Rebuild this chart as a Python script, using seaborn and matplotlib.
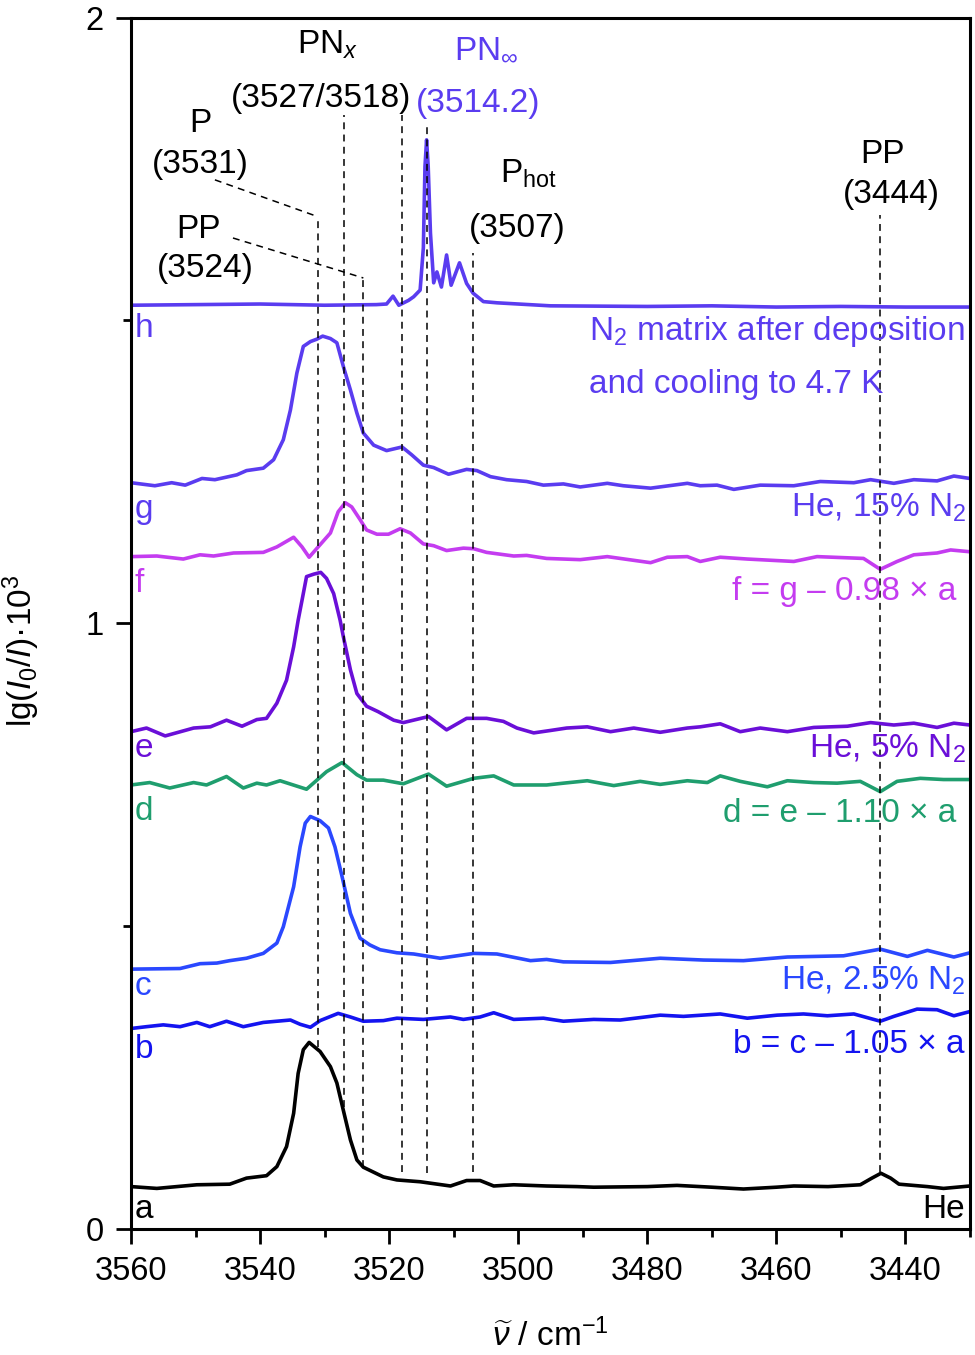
import numpy as np
import pandas as pd
import matplotlib
matplotlib.use("Agg")
import matplotlib.pyplot as plt
import seaborn as sns

# ---------------- data ----------------
a_x = [3560, 3556, 3549.8, 3544.7, 3542.1, 3539, 3537.4, 3535.9, 3534.8, 3534.1, 3533.3, 3532.4,
       3530.7, 3529.1, 3528.1, 3527.1, 3526, 3525, 3524, 3520.9, 3518.8, 3515.2, 3510.5, 3508,
       3505.9, 3503.8, 3500.7, 3495.6, 3490.9, 3488.3, 3480, 3475.4, 3470, 3465.1, 3460, 3457.3,
       3452, 3447, 3445.2, 3443.8, 3442.3, 3441, 3436.6, 3434.1, 3430]
a_y = [0.070, 0.067, 0.073, 0.074, 0.084, 0.088, 0.103, 0.136, 0.191, 0.257, 0.296, 0.308,
       0.293, 0.268, 0.241, 0.196, 0.147, 0.114, 0.102, 0.086, 0.081, 0.078, 0.071, 0.080,
       0.080, 0.071, 0.073, 0.071, 0.070, 0.069, 0.070, 0.072, 0.069, 0.066, 0.069, 0.071,
       0.070, 0.073, 0.084, 0.092, 0.084, 0.074, 0.070, 0.067, 0.071]

b_x = [3560, 3557.6, 3555, 3552.4, 3549.8, 3547.8, 3545.2, 3542.6, 3539.5, 3535.3, 3533.8, 3532.2,
       3530.7, 3527.9, 3526, 3524, 3520.9, 3518.8, 3514.7, 3510.5, 3508.5, 3505.9, 3503.8, 3500.7,
       3496.1, 3493, 3488.3, 3484.2, 3478, 3474.4, 3468.7, 3464.5, 3459.9, 3455.8, 3452.1, 3448,
       3443.9, 3441.8, 3438.2, 3435.1, 3432.5, 3430]
b_y = [0.331, 0.334, 0.337, 0.334, 0.341, 0.334, 0.343, 0.334, 0.341, 0.345, 0.338, 0.333,
       0.344, 0.356, 0.350, 0.343, 0.344, 0.348, 0.346, 0.350, 0.346, 0.350, 0.357, 0.346,
       0.348, 0.343, 0.346, 0.345, 0.353, 0.351, 0.355, 0.348, 0.353, 0.355, 0.352, 0.355,
       0.343, 0.351, 0.363, 0.362, 0.352, 0.359]

c_x = [3560, 3552.4, 3549.3, 3546.7, 3544.7, 3542.1, 3539.5, 3537.4, 3536.4, 3534.8, 3533.8, 3533,
       3532.2, 3530.7, 3529.4, 3528.4, 3527.3, 3526, 3524.5, 3523, 3521.4, 3518.8, 3516.2, 3512.1,
       3506.9, 3503.3, 3498.1, 3495.6, 3493, 3485.7, 3478, 3471.3, 3465.1, 3458.3, 3449.6, 3443.9,
       3439.7, 3436.6, 3432.5, 3430]
c_y = [0.429, 0.430, 0.438, 0.439, 0.443, 0.447, 0.455, 0.472, 0.499, 0.565, 0.631, 0.670,
       0.681, 0.674, 0.662, 0.631, 0.582, 0.521, 0.480, 0.469, 0.461, 0.456, 0.454, 0.447,
       0.455, 0.454, 0.443, 0.445, 0.441, 0.440, 0.447, 0.444, 0.443, 0.449, 0.451, 0.462,
       0.450, 0.460, 0.449, 0.456]

d_x = [3560, 3557.1, 3554, 3550.3, 3548.3, 3545.2, 3542.6, 3540.5, 3539, 3536.9, 3532.8, 3531.2,
       3529.7, 3527.3, 3525, 3523.5, 3520.9, 3517.8, 3513.9, 3511.1, 3506.9, 3503.8, 3500.7, 3495.6,
       3493, 3489.3, 3485.2, 3481.1, 3478, 3473.8, 3470.7, 3468.7, 3465.6, 3461.4, 3458.3, 3454.2,
       3450.6, 3447, 3443.9, 3441.3, 3437.7, 3434.1, 3430]
d_y = [0.733, 0.737, 0.728, 0.737, 0.733, 0.747, 0.728, 0.736, 0.733, 0.740, 0.726, 0.741,
       0.755, 0.770, 0.750, 0.741, 0.741, 0.735, 0.751, 0.731, 0.744, 0.748, 0.733, 0.733,
       0.736, 0.740, 0.732, 0.739, 0.734, 0.740, 0.737, 0.748, 0.739, 0.730, 0.740, 0.737,
       0.736, 0.739, 0.722, 0.739, 0.744, 0.742, 0.742]

e_x = [3560, 3557.6, 3554.7, 3550.3, 3547.7, 3545.2, 3542.8, 3540.5, 3539, 3537.4, 3535.9, 3534.8,
       3534.1, 3533.5, 3532.8, 3531.7, 3530.6, 3529.7, 3528.6, 3527.6, 3527.1, 3526, 3525, 3523.5,
       3521.7, 3519.3, 3517.8, 3513.9, 3511.1, 3508, 3504.9, 3502.3, 3500.2, 3497.6, 3495, 3492.5,
       3489.3, 3485.7, 3482.1, 3478, 3473.8, 3471.8, 3468.7, 3465.6, 3462.5, 3458.3, 3454.2, 3449,
       3445.4, 3441.8, 3438.7, 3435.1, 3432.5, 3430]
e_y = [0.821, 0.827, 0.814, 0.827, 0.829, 0.840, 0.830, 0.841, 0.843, 0.868, 0.906, 0.961,
       1.005, 1.038, 1.077, 1.081, 1.084, 1.074, 1.049, 1.005, 0.978, 0.923, 0.884, 0.863,
       0.854, 0.840, 0.836, 0.846, 0.824, 0.843, 0.843, 0.838, 0.827, 0.819, 0.823, 0.827,
       0.829, 0.821, 0.827, 0.820, 0.827, 0.829, 0.834, 0.821, 0.827, 0.821, 0.828, 0.830,
       0.836, 0.832, 0.835, 0.828, 0.835, 0.832]

f_x = [3560, 3556, 3551.9, 3549.3, 3547.2, 3544.1, 3539.5, 3537.4, 3534.8, 3533.5, 3532.4, 3531,
       3529.1, 3527.9, 3526.8, 3525.8, 3524.5, 3523.5, 3521.9, 3520.1, 3518.3, 3516.7, 3514.7, 3513.1,
       3511.1, 3508.5, 3506.9, 3504.9, 3500.7, 3498.7, 3495.6, 3490.4, 3486.2, 3479.5, 3476.9, 3473.8,
       3471.8, 3468.7, 3464.5, 3457.3, 3453.7, 3446.5, 3443.9, 3441.3, 3438.7, 3435.1, 3433, 3430]
f_y = [1.110, 1.111, 1.106, 1.113, 1.111, 1.116, 1.117, 1.126, 1.142, 1.126, 1.109, 1.126,
       1.149, 1.184, 1.199, 1.192, 1.171, 1.154, 1.147, 1.147, 1.156, 1.149, 1.131, 1.128,
       1.120, 1.124, 1.123, 1.117, 1.111, 1.112, 1.107, 1.105, 1.110, 1.100, 1.109, 1.110,
       1.102, 1.109, 1.106, 1.102, 1.110, 1.107, 1.089, 1.102, 1.113, 1.116, 1.121, 1.118]

g_x = [3560, 3556.3, 3553.7, 3551.6, 3549, 3547, 3543.6, 3542.1, 3539.5, 3537.9, 3536.4, 3535.3,
       3534.3, 3533.3, 3532.2, 3531.2, 3530.3, 3529.1, 3528.1, 3527.1, 3526, 3525, 3524, 3522.4,
       3520.4, 3518, 3516.5, 3514.7, 3513.1, 3510.8, 3508, 3506.4, 3504.3, 3501.8, 3498.7, 3496.1,
       3493, 3490.4, 3486.2, 3483.7, 3479.5, 3473.8, 3471.8, 3469.2, 3466.6, 3462.5, 3457.3, 3453.2,
       3448, 3445.4, 3441.8, 3438.7, 3435.1, 3432.5, 3430]
g_y = [1.232, 1.227, 1.232, 1.228, 1.239, 1.237, 1.245, 1.252, 1.256, 1.270, 1.303, 1.352,
       1.413, 1.457, 1.465, 1.469, 1.474, 1.470, 1.463, 1.424, 1.385, 1.347, 1.314, 1.294,
       1.285, 1.291, 1.278, 1.261, 1.257, 1.246, 1.254, 1.252, 1.242, 1.237, 1.234, 1.228,
       1.230, 1.225, 1.231, 1.227, 1.223, 1.231, 1.227, 1.228, 1.221, 1.228, 1.227, 1.234,
       1.232, 1.237, 1.231, 1.237, 1.235, 1.243, 1.239]

h_x = [3560, 3550, 3540, 3530, 3522, 3520.4, 3519.4, 3518.5, 3517, 3516.2, 3515.2, 3514.7,
       3514.45, 3514.2, 3513.95, 3513.6, 3513.1, 3512.6, 3511.9, 3511.1, 3510.4, 3509.1, 3508,
       3507, 3505.4, 3503.3, 3495, 3480, 3470, 3460, 3450, 3440, 3430]
h_y = [1.525, 1.526, 1.527, 1.525, 1.526, 1.527, 1.540, 1.525, 1.533, 1.539, 1.550, 1.620,
       1.754, 1.798, 1.754, 1.644, 1.562, 1.580, 1.555, 1.608, 1.558, 1.595, 1.561,
       1.545, 1.531, 1.529, 1.524, 1.523, 1.524, 1.522, 1.523, 1.522, 1.522]

trace_names = ["a", "b", "c", "d", "e", "f", "g", "h"]
trace_colors = ["#000000", "#1414f0", "#2a48ff", "#1f9e6e", "#6a0fd8", "#c43cf0", "#5a3cf0", "#5a3cf0"]

# marker wavenumbers (dashed lines)
band_pos = [3531, 3527, 3524, 3518, 3514.2, 3507, 3444]

# ---------------- style ----------------
sns.set_theme(style="ticks")
plt.rcParams["font.family"] = ["Liberation Sans", "DejaVu Sans"]
plt.rcParams["mathtext.fontset"] = "custom"
plt.rcParams["mathtext.rm"] = "Liberation Sans"
plt.rcParams["mathtext.it"] = "Liberation Sans:italic"
plt.rcParams["mathtext.bf"] = "Liberation Sans:bold"
plt.rcParams["mathtext.sf"] = "Liberation Sans"
plt.rcParams["text.color"] = "black"
plt.rcParams["axes.labelcolor"] = "black"
plt.rcParams["xtick.color"] = "black"
plt.rcParams["ytick.color"] = "black"

FS = 24
fig = plt.figure(figsize=(9.75, 13.55), dpi=100)
ax = fig.add_axes([131 / 975, 1 - 1229 / 1355, 839 / 975, (1229 - 17.5) / 1355])

xs = [a_x, b_x, c_x, d_x, e_x, f_x, g_x, h_x]
ys = [a_y, b_y, c_y, d_y, e_y, f_y, g_y, h_y]
frames = []
for n, x, y in zip(trace_names, xs, ys):
    frames.append(pd.DataFrame({"wn": x, "abs": y, "trace": n}))
df = pd.concat(frames, ignore_index=True)

for n, col in zip(trace_names, trace_colors):
    sub = df[df["trace"] == n]
    sns.lineplot(data=sub, x="wn", y="abs", ax=ax, color=col, lw=2.6,
                 sort=False, estimator=None, legend=False,
                 solid_joinstyle="round", solid_capstyle="round")

# dashed marker lines
dash_top = [1.671, 1.839, 1.570, 1.839, 1.819, 1.611, 1.674]
dash_bot = [0.300, 0.201, 0.102, 0.094, 0.0925, 0.094, 0.094]
ax.vlines(band_pos, dash_bot, dash_top, colors="black", linestyles=(0, (4.5, 3.5)), lw=1.1, zorder=3)
# leader lines
ax.plot([3547.0, 3531], [1.732, 1.671], color="black", ls=(0, (4.5, 3.5)), lw=1.1)
ax.plot([3544.2, 3524], [1.636, 1.570], color="black", ls=(0, (4.5, 3.5)), lw=1.1)

# axes
ax.set_xlim(3560, 3430)
ax.set_ylim(0, 2)
ax.set_xticks(np.arange(3560, 3439, -20))
ax.set_xticks(np.arange(3550, 3429, -10), minor=True)
ax.set_yticks([0, 1, 2])
ax.set_yticks([0.5, 1.5], minor=True)
ax.tick_params(axis="both", which="major", direction="out", length=10.5, width=2.0,
               labelsize=23.5, colors="black", pad=9)
ax.tick_params(axis="both", which="minor", direction="out", length=5.5, width=2.0)
ax.tick_params(top=False, right=False)
for s in ax.spines.values():
    s.set_visible(True)
    s.set_linewidth(2.2)
    s.set_color("black")
ax.grid(False)

ax.set_xlabel(r"$\widetilde{\nu}$ / cm$^{-1}$", fontsize=FS, color="black")
ax.set_ylabel(r"lg($I_0$/$I$)·10$^3$", fontsize=FS, color="black")
ax.xaxis.set_label_coords(0.5, -0.074)
ax.yaxis.set_label_coords(-0.106, 0.477)

# trace letters
letter_y = [0.018, 0.282, 0.386, 0.675, 0.780, 1.052, 1.174, 1.473]
for n, col, yy in zip(trace_names, trace_colors, letter_y):
    ax.text(3559.4, yy, n, color=col, fontsize=FS, ha="left", va="baseline")

# right-hand descriptions
ax.text(3489.0, 1.468, r"N$_2$ matrix after deposition", color="#5a3cf0", fontsize=FS, ha="left", va="baseline")
ax.text(3489.0, 1.380, "and cooling to 4.7 K", color="#5a3cf0", fontsize=FS, ha="left", va="baseline")
ax.text(3430.6, 1.176, r"He, 15% N$_2$", color="#5a3cf0", fontsize=FS, ha="right", va="baseline")
ax.text(3432.1, 1.038, "f = g – 0.98 × a", color="#c43cf0", fontsize=FS, ha="right", va="baseline")
ax.text(3430.6, 0.7775, r"He, 5% N$_2$", color="#6a0fd8", fontsize=FS, ha="right", va="baseline")
ax.text(3432.1, 0.672, "d = e – 1.10 × a", color="#1f9e6e", fontsize=FS, ha="right", va="baseline")
ax.text(3430.6, 0.3945, r"He, 2.5% N$_2$", color="#2a48ff", fontsize=FS, ha="right", va="baseline")
ax.text(3430.8, 0.290, "b = c – 1.05 × a", color="#1414f0", fontsize=FS, ha="right", va="baseline")
ax.text(3430.8, 0.018, "He", color="black", fontsize=FS, ha="right", va="baseline")

# band annotations
ax.text(3529.5, 1.941, r"PN$_x$", color="black", fontsize=FS, ha="center", va="baseline")
ax.text(3530.6, 1.852, "(3527/3518)", color="black", fontsize=FS, ha="center", va="baseline")
ax.text(3504.9, 1.933, r"PN$_\infty$", color="#5a3cf0", fontsize=FS, ha="center", va="baseline")
ax.text(3506.2, 1.844, "(3514.2)", color="#5a3cf0", fontsize=FS, ha="center", va="baseline")
ax.text(3549.3, 1.811, "P", color="black", fontsize=FS, ha="center", va="baseline")
ax.text(3549.3, 1.743, "(3531)", color="black", fontsize=FS, ha="center", va="baseline")
ax.text(3549.6, 1.636, "PP", color="black", fontsize=FS, ha="center", va="baseline")
ax.text(3548.5, 1.572, "(3524)", color="black", fontsize=FS, ha="center", va="baseline")
ax.text(3498.4, 1.727, r"P$_{\mathrm{hot}}$", color="black", fontsize=FS, ha="center", va="baseline")
ax.text(3500.1, 1.638, "(3507)", color="black", fontsize=FS, ha="center", va="baseline")
ax.text(3443.5, 1.760, "PP", color="black", fontsize=FS, ha="center", va="baseline")
ax.text(3442.2, 1.694, "(3444)", color="black", fontsize=FS, ha="center", va="baseline")

fig.savefig("out.png", dpi=100)
